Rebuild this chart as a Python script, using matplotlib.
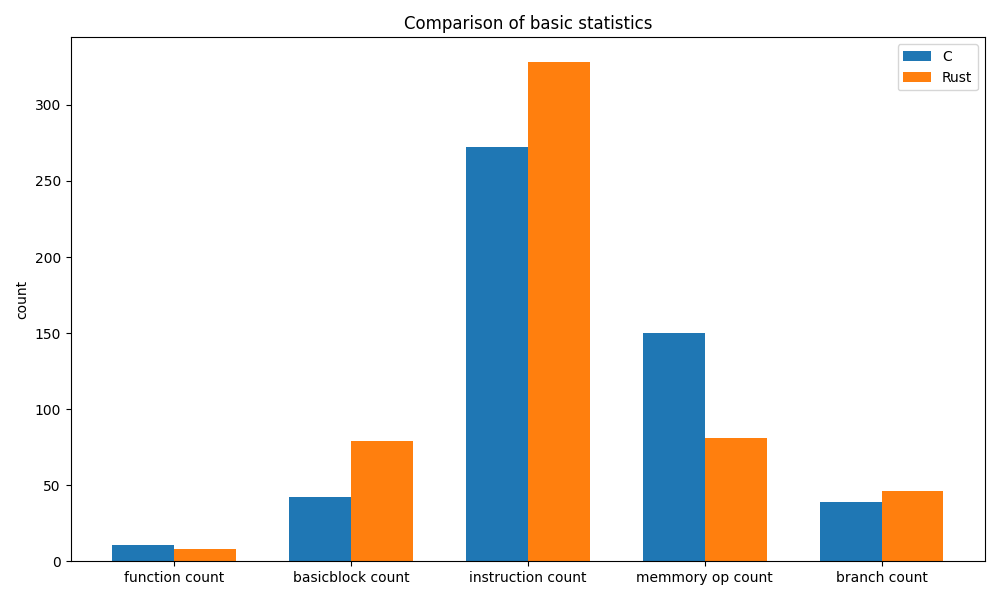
import numpy as np
import matplotlib
matplotlib.use("Agg")
import matplotlib.pyplot as plt

categories = ["function count", "basicblock count", "instruction count", "memmory op count", "branch count"]
c_values = [11, 42, 272, 150, 39]
rust_values = [8, 79, 328, 81, 46]

x = np.arange(len(categories))
width = 0.35

fig, ax = plt.subplots(figsize=(10, 6))
ax.bar(x - width / 2, c_values, width, label="C")
ax.bar(x + width / 2, rust_values, width, label="Rust")
ax.set_ylabel("count")
ax.set_title("Comparison of basic statistics")
ax.set_xticks(x)
ax.set_xticklabels(categories)
ax.legend()
fig.tight_layout()
fig.savefig("out.png", dpi=100)
